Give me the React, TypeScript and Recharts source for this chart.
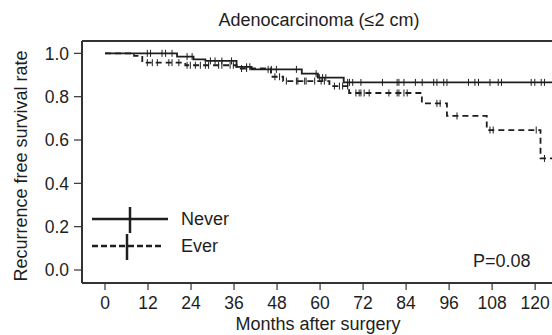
import React from 'react';
import {
  ComposedChart,
  Line,
  Scatter,
  XAxis,
  YAxis,
  ReferenceLine,
} from 'recharts';

// Kaplan-Meier steps (months, survival after the step)
const neverTimes = [0, 20.1, 24.7, 28, 36.7, 40.9, 54.9, 59.4, 66.6, 126];
const neverSurv = [1, 0.985, 0.972, 0.965, 0.938, 0.926, 0.906, 0.888, 0.866, 0.866];
const everTimes = [0, 8.1, 10.4, 22.4, 36.7, 46.3, 49.7, 62.6, 68.1, 88.4, 95.4, 106.5, 121.5, 126];
const everSurv = [1, 0.988, 0.957, 0.945, 0.93, 0.892, 0.872, 0.849, 0.817, 0.769, 0.711, 0.646, 0.515, 0.515];

// censored observations (months)
const neverCensored = [
  11.8, 12.7, 15.9, 16.9, 18.7, 22.9, 24.3, 29.4, 30.7, 32.6, 35.3, 39.5, 40.4, 45.5, 46.4,
  47.8, 53.4, 58.9, 59.8, 60.7, 61.6, 67.7, 68.2, 69.1, 71.4, 77.4, 81.5, 82, 83.4, 86.6,
  88.5, 91.7, 92.6, 94.5, 95.4, 101.4, 103.2, 104.2, 107.4, 109.7, 110.6, 118.9, 119.9,
  121.7, 122.6,
];
const everCensored = [
  11.8, 13.2, 14.6, 17.8, 18.7, 20.6, 22.9, 23.8, 25.2, 26.6, 28, 28.9, 31.7, 32.6, 34.9,
  35.8, 38.1, 39.5, 47.4, 48.7, 50.6, 53.4, 53.8, 55.7, 56.1, 58.5, 60.3, 61.2, 64, 65.4,
  66.3, 67.7, 70, 70.9, 71.4, 72.3, 73.7, 79.2, 81.5, 82, 83.4, 84.3, 92.6, 93.5, 98.2,
  107.4, 108.3, 120.3, 122.6,
];

const xTicks = [0, 12, 24, 36, 48, 60, 72, 84, 96, 108, 120];
const yTicks = [0, 0.2, 0.4, 0.6, 0.8, 1.0];

const X_DOMAIN: [number, number] = [-6.42, 126.1];
const Y_DOMAIN: [number, number] = [-0.06, 1.057];

const FONT = '"Liberation Sans", Arial, Helvetica, sans-serif';
const INK = '#1e1e1e';
const AXIS = '#333';
const FS = 18;
const TICK_FS = 17.5;

// value of the step curve at time t
const survAt = (times: number[], surv: number[], t: number) => {
  let v = surv[0];
  for (let i = 0; i < times.length; i++) {
    if (times[i] <= t) v = surv[i];
  }
  return v;
};

const neverLine = neverTimes.map((t, i) => ({ t, s: neverSurv[i] }));
const everLine = everTimes.map((t, i) => ({ t, s: everSurv[i] }));
const neverMarks = neverCensored.map(t => ({ t, s: survAt(neverTimes, neverSurv, t) }));
const everMarks = everCensored.map(t => ({ t, s: survAt(everTimes, everSurv, t) }));

const CensorTick = (props: any) => {
  const { cx, cy } = props;
  if (cx == null || cy == null) return null;
  return <line x1={cx} x2={cx} y1={cy - 3.5} y2={cy + 3.5} stroke={INK} strokeWidth={1} />;
};

const App: React.FC = () => {
  return (
    <div style={{ position: 'absolute', left: 0, top: 0, width: 552, height: 335, overflow: 'hidden', background: '#fff' }}>
      <ComposedChart
        width={600}
        height={335}
        margin={{ top: 41, right: 43, bottom: 22, left: 0 }}
      >
        <XAxis
          type="number"
          dataKey="t"
          domain={X_DOMAIN}
          ticks={xTicks}
          allowDataOverflow
          height={30}
          tickSize={7}
          tickMargin={7}
          axisLine={{ stroke: AXIS, strokeWidth: 2 }}
          tickLine={{ stroke: AXIS, strokeWidth: 1.2 }}
          tick={{ fill: INK, fontSize: TICK_FS, fontFamily: FONT }}
        />
        <YAxis
          type="number"
          domain={Y_DOMAIN}
          ticks={yTicks}
          allowDataOverflow
          width={82}
          tickSize={8}
          tickMargin={5}
          tickFormatter={(v: number) => v.toFixed(1)}
          axisLine={{ stroke: AXIS, strokeWidth: 2 }}
          tickLine={{ stroke: AXIS, strokeWidth: 1.2 }}
          tick={{ fill: INK, fontSize: TICK_FS, fontFamily: FONT }}
        />
        <ReferenceLine y={Y_DOMAIN[1]} stroke={AXIS} strokeWidth={2} />
        <Line
          data={everLine}
          dataKey="s"
          type="stepAfter"
          stroke={INK}
          strokeWidth={1.8}
          strokeDasharray="6 4"
          dot={false}
          activeDot={false}
          isAnimationActive={false}
        />
        <Line
          data={neverLine}
          dataKey="s"
          type="stepAfter"
          stroke={INK}
          strokeWidth={1.8}
          dot={false}
          activeDot={false}
          isAnimationActive={false}
        />
        <Scatter data={everMarks} dataKey="s" shape={CensorTick} isAnimationActive={false} />
        <Scatter data={neverMarks} dataKey="s" shape={CensorTick} isAnimationActive={false} />
      </ComposedChart>

      {/* titles, legend and p value */}
      <svg
        width={552}
        height={335}
        style={{ position: 'absolute', left: 0, top: 0, pointerEvents: 'none' }}
        fontFamily={FONT}
        fill={INK}
      >
        <text x={319} y={26} fontSize={FS} textAnchor="middle">Adenocarcinoma (≤2 cm)</text>
        <text x={318} y={330} fontSize={FS} textAnchor="middle">Months after surgery</text>
        <text
          transform="translate(21,166) rotate(-90)"
          fontSize={FS}
          textAnchor="middle"
          dominantBaseline="central"
        >
          Recurrence free survival rate
        </text>
        <text x={473} y={267} fontSize={FS}>P=0.08</text>

        <line x1={92} x2={168} y1={219} y2={219} stroke={INK} strokeWidth={2.5} />
        <line x1={130} x2={130} y1={207} y2={233} stroke={INK} strokeWidth={2.5} />
        <text x={181} y={219} fontSize={FS} dominantBaseline="central">Never</text>

        <line x1={92} x2={162} y1={246} y2={246} stroke={INK} strokeWidth={2.5} strokeDasharray="6 3" />
        <line x1={127} x2={127} y1={234} y2={260} stroke={INK} strokeWidth={2.5} />
        <text x={181} y={246} fontSize={FS} dominantBaseline="central">Ever</text>
      </svg>
    </div>
  );
};

export default App;
